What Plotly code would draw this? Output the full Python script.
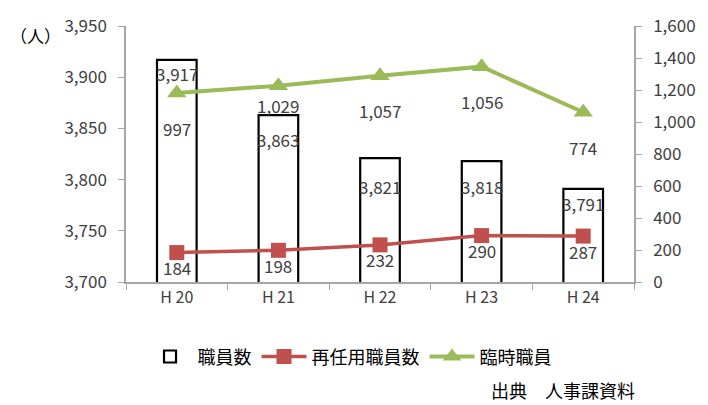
import plotly.graph_objects as go

categories = ["H 20", "H 21", "H 22", "H 23", "H 24"]
staff = [3917, 3863, 3821, 3818, 3791]
reemployed = [184, 198, 232, 290, 287]
temporary = [997, 1029, 1057, 1056, 774]
left_ticks = [3700, 3750, 3800, 3850, 3900, 3950]
right_ticks = [0, 200, 400, 600, 800, 1000, 1200, 1400, 1600]

FONT = "Noto Sans CJK JP"
GREEN = "#9BBB59"
RED = "#C0504D"
TXT = "#404040"

# green line is drawn stacked on top of the re-employed series
temp_stacked = [t + r for t, r in zip(temporary, reemployed)]

fig = go.Figure()
fig.add_trace(go.Bar(
    x=categories, y=staff, name="職員数",
    marker=dict(color="white", line=dict(color="black", width=2.2)),
    width=0.39, yaxis="y",
))
fig.add_trace(go.Scatter(
    x=categories, y=reemployed, name="再任用職員数", yaxis="y2",
    mode="lines+markers",
    line=dict(color=RED, width=3.5),
    marker=dict(symbol="square", size=15, color=RED),
))
fig.add_trace(go.Scatter(
    x=categories, y=temp_stacked, name="臨時職員", yaxis="y2",
    mode="lines+markers",
    line=dict(color=GREEN, width=4),
    marker=dict(symbol="triangle-up", size=17, color=GREEN),
))

LBL = dict(size=17, color=TXT, family=FONT)
bar_shift = [-14, -24, -28, -25, -15]
green_shift = [-35, -20, -35, -35, -35]
annotations = []
for i, (c, v) in enumerate(zip(categories, staff)):
    annotations.append(dict(x=c, y=v, xref="x", yref="y", text=f"{v:,}",
                            showarrow=False, yshift=bar_shift[i], font=LBL))
for i, (c, v, r) in enumerate(zip(categories, temp_stacked, temporary)):
    annotations.append(dict(x=c, y=v, xref="x", yref="y2", text=f"{r:,}",
                            showarrow=False, yshift=green_shift[i], font=LBL))
for c, v in zip(categories, reemployed):
    annotations.append(dict(x=c, y=v, xref="x", yref="y2", text=f"{v:,}",
                            showarrow=False, yshift=-15, font=LBL))
annotations.append(dict(xref="paper", yref="paper", x=-0.232, y=0.962,
                        xanchor="left", yanchor="middle", text="（人）",
                        showarrow=False, font=dict(size=17, color="black", family=FONT)))
annotations.append(dict(xref="paper", yref="paper", x=1.005, y=-0.42,
                        xanchor="right", yanchor="middle",
                        text="出典　人事課資料", showarrow=False,
                        font=dict(size=18, color="black", family=FONT)))

axis_common = dict(showgrid=False, zeroline=False, showline=True, linecolor="#A6A6A6",
                   linewidth=1.5, ticks="outside", tickcolor="#A6A6A6", ticklen=6,
                   ticklabelstandoff=8,
                   tickfont=dict(size=17, color=TXT, family=FONT))

fig.update_layout(
    width=708, height=405,
    margin=dict(l=126, r=71, t=20, b=123),
    paper_bgcolor="white", plot_bgcolor="white",
    font=dict(family=FONT),
    xaxis=dict(showgrid=False, showline=True, linecolor="#A6A6A6", linewidth=1.5,
               ticks="outside", tickcolor="#A6A6A6", ticklen=6,
               tickson="boundaries",
               tickfont=dict(size=16, color=TXT, family=FONT)),
    yaxis=dict(range=[3700, 3950], tickvals=left_ticks, tickformat=",", **axis_common),
    yaxis2=dict(range=[0, 1600], tickvals=right_ticks, tickformat=",", overlaying="y",
                side="right", **axis_common),
    legend=dict(orientation="h", x=0.44, xanchor="center", y=-0.22, yanchor="top",
                font=dict(size=18, color="black", family=FONT),
                itemwidth=45, traceorder="normal"),
    annotations=annotations,
    showlegend=True,
)

fig.write_html("out.html")
